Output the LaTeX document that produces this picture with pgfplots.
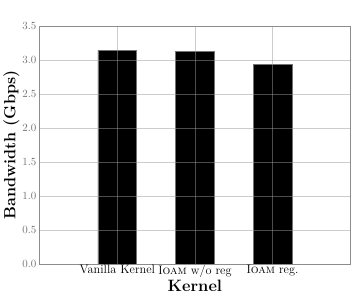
\documentclass[border=0pt]{standalone}
\usepackage{pgfplots}
\pgfplotsset{compat=1.18}
\begin{document}
\begin{tikzpicture}[x=1pt,y=1pt]
\begin{axis}[
  scale only axis,
  width=311pt, height=239pt,
  xmin=-1, xmax=3,
  ymin=0, ymax=3.5,
  ytick={0,0.5,...,3.5},
  yticklabel style={/pgf/number format/fixed,/pgf/number format/fixed zerofill,/pgf/number format/precision=1, text=black!55, font=\fontsize{10.5}{12}\selectfont},
  xtick={0,1,2},
  xticklabels={Vanilla Kernel, I\textsc{oam} w/o reg, I\textsc{oam} reg.},
  xticklabel style={text=black, yshift=3pt, font=\fontsize{12.3}{14}\selectfont},
  major tick length=0pt,
  grid=major,
  grid style={black!40, opacity=0.5, line width=0.7pt},
  axis line style={black!45, line width=0.8pt},
  axis on top,
  xlabel={\fontsize{16.5}{19}\selectfont\bfseries Kernel},
  ylabel={\fontsize{16.2}{19}\selectfont\bfseries Bandwidth (Gbps)},
  xlabel style={yshift=4pt},
  ylabel style={yshift=-4pt},
]
\addplot[ybar, bar width=0.5, fill=black, draw=black!55, line width=0.6pt]
  coordinates {(0,3.14) (1,3.13) (2,2.93)};
\end{axis}
\path (current axis.north west) ++(0,26pt) coordinate (t);
\path (current axis.south east) ++(4pt,-33pt) coordinate (b);
\end{tikzpicture}
\end{document}
